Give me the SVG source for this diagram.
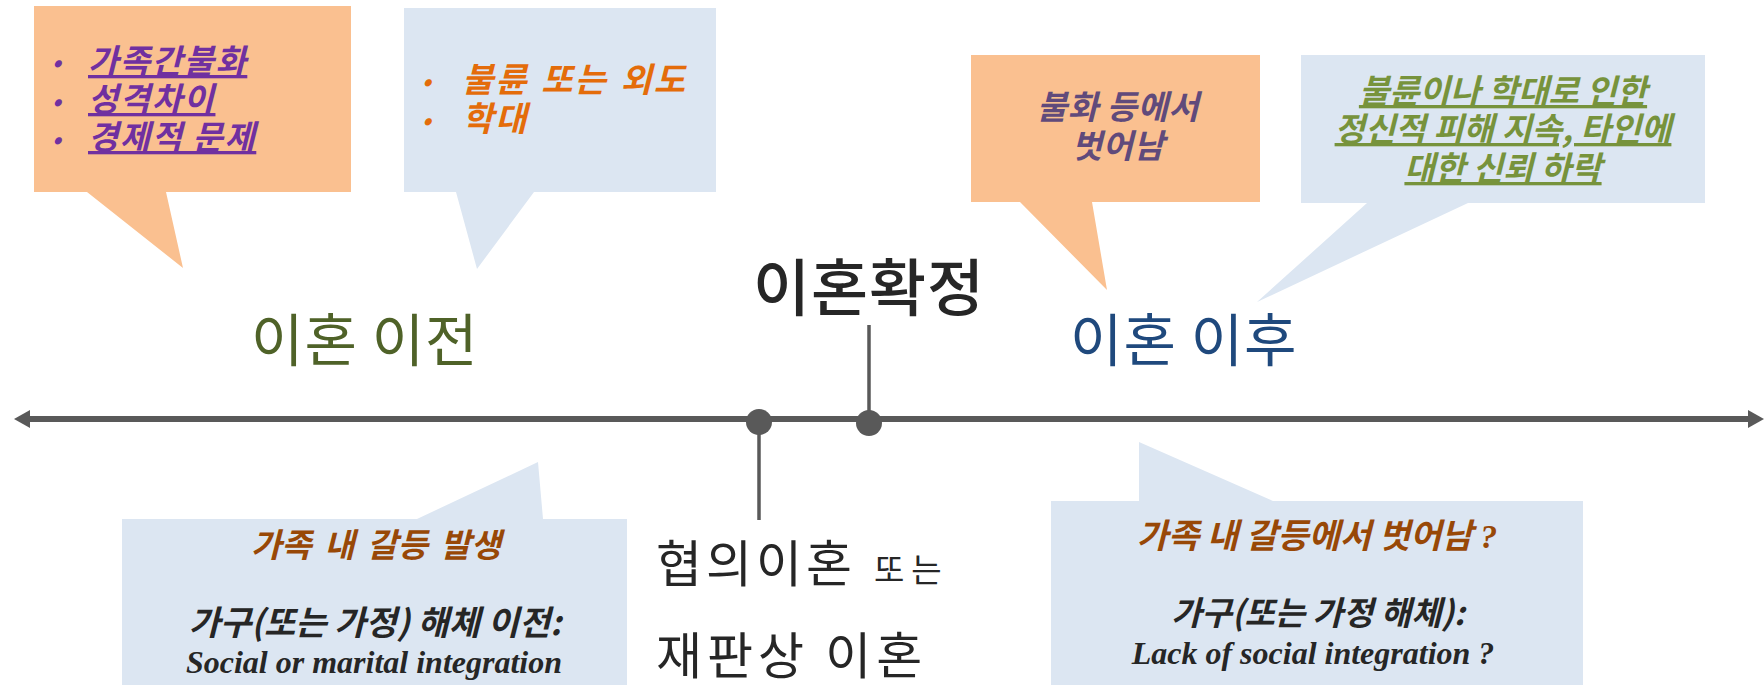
<svg xmlns="http://www.w3.org/2000/svg" width="1764" height="685" viewBox="0 0 1764 685">
<defs>
<style>
.kr{font-family:"Noto Sans CJK KR","Noto Sans",sans-serif}
.bi{font-weight:bold;font-style:italic}
.orange{fill:#FAC090}
.blue{fill:#DCE6F2}
.u{text-decoration:underline}
.serif{font-family:"Liberation Serif","Times New Roman",serif;font-weight:bold;font-style:italic}
.tick{stroke:#595959;stroke-width:3.5;fill:none}
.dot{fill:#595959}
</style>
<marker id="ah" viewBox="0 0 16 18" markerWidth="16" markerHeight="18" refX="2" refY="9" markerUnits="userSpaceOnUse" orient="auto-start-reverse">
<path d="M0,0 L16,9 L0,18 Z" fill="#595959"/>
</marker>
</defs>
<rect width="1764" height="685" fill="#FFFFFF"/>

<g id="callout-causes">
<path class="orange" d="M34,6 H351 V192 H166 L183,268 L87,192 H34 Z"/>
<g class="kr bi" font-size="33" letter-spacing="1.5" fill="#7030A0">
<text x="52" y="71" font-size="24" letter-spacing="0">•</text>
<text x="52" y="110" font-size="24" letter-spacing="0">•</text>
<text x="52" y="148" font-size="24" letter-spacing="0">•</text>
<text x="88" y="73" class="u">가족간불화</text>
<text x="88" y="111" class="u">성격차이</text>
<text x="88" y="149" class="u">경제적 문제</text>
</g>
</g>

<g id="callout-affair">
<path class="blue" d="M404,8 H716 V192 H534 L477,269 L456,192 H404 Z"/>
<g class="kr bi" font-size="34" letter-spacing="2" word-spacing="3" fill="#E46C0A">
<text x="422" y="90" font-size="24" letter-spacing="0">•</text>
<text x="422" y="129" font-size="24" letter-spacing="0">•</text>
<text x="462" y="92">불륜 또는 외도</text>
<text x="462" y="131">학대</text>
</g>
</g>

<g id="callout-escape">
<path class="orange" d="M971,55 H1260 V202 H1092 L1107,290 L1020,202 H971 Z"/>
<g class="kr bi" font-size="33" letter-spacing="0.5" fill="#604A7B" text-anchor="middle">
<text x="1118" y="119">불화 등에서</text>
<text x="1118" y="158">벗어남</text>
</g>
</g>

<g id="callout-damage">
<path class="blue" d="M1301,55 H1705 V203 H1468 L1257,302 L1367,203 H1301 Z"/>
<g class="kr bi u" font-size="33" fill="#77933C" text-anchor="middle">
<text x="1503" y="103">불륜이나 학대로 인한</text>
<text x="1503" y="141">정신적 피해 지속, 타인에</text>
<text x="1503" y="180">대한 신뢰 하락</text>
</g>
</g>

<g id="label-before">
<text class="kr" x="251" y="361" font-size="57" letter-spacing="1" fill="#4F6228">이혼 이전</text>
</g>

<g id="label-after">
<text class="kr" x="1070" y="361" font-size="57" letter-spacing="1" fill="#1F497D">이혼 이후</text>
</g>

<g id="label-final">
<text class="kr" x="869" y="311" font-size="62" letter-spacing="1" font-weight="500" fill="#262626" text-anchor="middle">이혼확정</text>
</g>

<g id="label-type">
<text class="kr" x="656" y="582" font-size="50" letter-spacing="4" fill="#262626">협의이혼<tspan font-size="33" letter-spacing="7" dx="18">또는</tspan></text>
<text class="kr" x="656" y="674" font-size="50" letter-spacing="5" fill="#262626">재판상 이혼</text>
</g>

<g id="callout-conflict">
<path class="blue" d="M122,519 H417 L538,462 L543,519 H627 V685 H122 Z"/>
<text class="kr bi" x="376" y="557" font-size="33" word-spacing="5" fill="#984807" text-anchor="middle">가족 내 갈등 발생</text>
<text class="kr bi" x="375" y="635" font-size="34" fill="#262626" text-anchor="middle">가구(또는 가정) 해체 이전:</text>
<text class="serif" x="374" y="673" font-size="32" fill="#262626" text-anchor="middle">Social or marital integration</text>
</g>

<g id="callout-lack">
<path class="blue" d="M1051,501 H1139 L1139,442 L1273,501 H1583 V685 H1051 Z"/>
<text class="kr bi" x="1317" y="548" font-size="34" fill="#984807" text-anchor="middle">가족 내 갈등에서 벗어남 <tspan class="serif">?</tspan></text>
<text class="kr bi" x="1318" y="625" font-size="33" fill="#262626" text-anchor="middle">가구(또는 가정 해체):</text>
<text class="serif" x="1313" y="664" font-size="32" fill="#262626" text-anchor="middle">Lack of social integration ?</text>
</g>

<g id="connectors">
<line x1="28" y1="419" x2="1750" y2="419" stroke="#595959" stroke-width="6" marker-start="url(#ah)" marker-end="url(#ah)"/>
<line class="tick" x1="869" y1="325" x2="869" y2="423"/>
<line class="tick" x1="759" y1="422" x2="759" y2="520"/>
<circle class="dot" cx="759" cy="422" r="13"/>
<circle class="dot" cx="869" cy="423" r="13"/>
</g>
</svg>
